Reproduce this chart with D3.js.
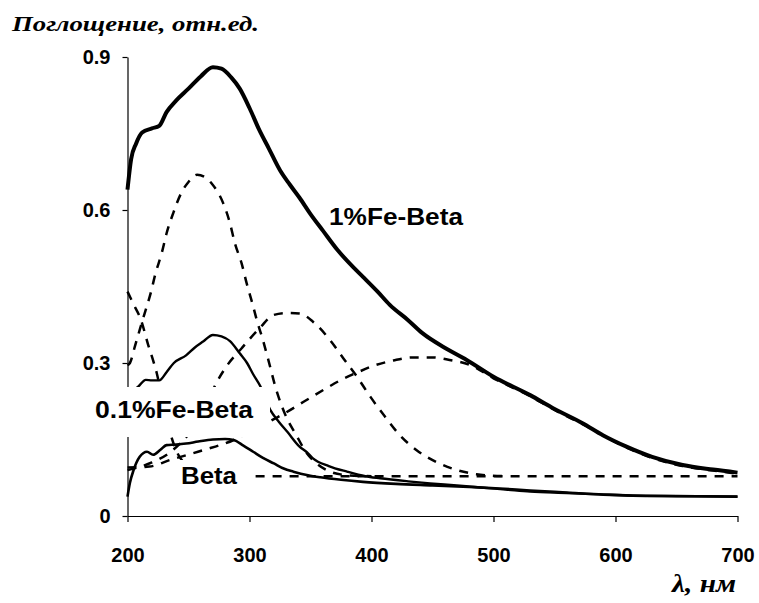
<!DOCTYPE html>
<html>
<head>
<meta charset="utf-8">
<script src="https://cdn.jsdelivr.net/npm/d3@7"></script>
<style>
  body { margin: 0; background: #fff; }
  svg { display: block; }
  .tick text { font-family: "Liberation Sans", Arial, sans-serif; font-weight: bold; font-size: 20px; fill: #000; }
  .lbl { font-family: "Liberation Sans", Arial, sans-serif; font-weight: bold; font-size: 24px; fill: #000; }
  .ttl { font-family: "Liberation Serif", "Times New Roman", serif; font-weight: bold; font-style: italic; fill: #000; }
</style>
</head>
<body>
<svg id="chart" width="759" height="603"></svg>
<script>
// оси
const xTicks = [200, 300, 400, 500, 600, 700];
const yTicks = [0, 0.3, 0.6, 0.9];

// измеренные спектры [λ, поглощение]
const fe1 = [[200,0.64],[203,0.70],[207,0.73],[212,0.752],[220,0.760],[226,0.765],[232,0.792],[240,0.815],[250,0.838],[260,0.862],[270,0.880],[277,0.877],[285,0.860],[292,0.838],[300,0.80],[308,0.757],[316,0.72],[325,0.678],[333,0.65],[341,0.624],[350,0.592],[360,0.560],[372,0.522],[385,0.488],[393,0.469],[405,0.44],[415,0.414],[430,0.384],[442,0.358],[460,0.330],[478,0.306],[500,0.273],[530,0.237],[550,0.210],[573,0.182],[590,0.158],[609,0.136],[630,0.116],[655,0.100],[680,0.091],[700,0.085]];
const fe01 = [[200,0.22],[205,0.245],[209,0.254],[215,0.267],[220,0.266],[226,0.266],[232,0.282],[238,0.30],[248,0.315],[255,0.33],[262,0.342],[270,0.355],[277,0.352],[284,0.343],[292,0.319],[298,0.300],[303,0.278],[309,0.254],[317,0.208],[324,0.185],[331,0.165],[341,0.136],[347,0.125],[352,0.113],[365,0.098],[380,0.087],[395,0.078],[407,0.074],[430,0.068],[448,0.064],[470,0.06],[489,0.056],[510,0.052],[530,0.048],[560,0.045],[590,0.042],[614,0.040],[650,0.039],[700,0.038]];
const beta = [[200,0.038],[202,0.065],[205,0.09],[210,0.116],[216,0.126],[221,0.12],[227,0.13],[232,0.139],[240,0.14],[248,0.142],[258,0.146],[270,0.150],[280,0.151],[287,0.149],[295,0.138],[303,0.126],[311,0.114],[320,0.103],[328,0.093],[336,0.087],[348,0.08],[358,0.076],[375,0.071],[393,0.067],[420,0.063],[450,0.06],[480,0.057],[505,0.054],[530,0.05],[560,0.046],[590,0.042],[614,0.040],[650,0.039],[700,0.038]];

// разложение на компоненты (пунктир)
const bandA = [[200,0.296],[202,0.30],[206,0.332],[210,0.365],[214,0.397],[219,0.437],[223,0.476],[228,0.515],[232,0.554],[237.5,0.594],[244,0.633],[250,0.655],[257,0.669],[263,0.665],[269,0.652],[278.5,0.613],[284,0.574],[288,0.535],[293.6,0.495],[297.7,0.456],[302,0.42],[306,0.384],[311,0.345],[315,0.31],[322,0.247],[330,0.195],[338,0.16],[347,0.123],[355,0.103],[365,0.088],[380,0.08],[400,0.078]];
const bandB = [[200,0.44],[205,0.415],[211,0.385],[217,0.335],[221,0.305],[224,0.28],[228,0.235],[232,0.19],[236,0.155],[240,0.128],[246,0.105],[255,0.09],[265,0.082],[280,0.078]];
const bandC = [[200,0.09],[220,0.105],[235,0.125],[250,0.16],[260,0.19],[272,0.257],[281,0.293],[293.6,0.329],[308.6,0.369],[319.5,0.394],[330,0.398],[341,0.397],[352,0.381],[366,0.345],[377,0.309],[389,0.27],[399,0.234],[411,0.195],[423,0.159],[437,0.129],[453,0.106],[470,0.09],[486,0.082],[510,0.078]];
const bandD = [[200,0.095],[218,0.097],[235,0.11],[262,0.129],[287,0.149],[300,0.165],[320,0.19],[330,0.203],[341,0.219],[352,0.235],[364,0.252],[376,0.268],[388,0.281],[401,0.294],[418,0.305],[434,0.311],[450,0.311],[464,0.306],[481,0.296],[500,0.27],[530,0.235],[550,0.208],[573,0.18],[609,0.134],[630,0.114],[655,0.098],[680,0.089],[700,0.083]];
const baseLine = [[305,0.078],[700,0.078]];

const svg = d3.select("#chart");
const x = d3.scaleLinear().domain([200, 700]).range([127.5, 737.5]);
const y = d3.scaleLinear().domain([0, 0.9]).range([516, 57]);

// оси
svg.append("g").attr("transform", "translate(127.5,0)")
    .call(d3.axisLeft(y).tickValues(yTicks).tickSize(5).tickSizeOuter(0).tickPadding(12)
        .tickFormat(d => d === 0 ? "0" : d3.format(".1f")(d)));
svg.append("g").attr("transform", "translate(0,516)")
    .call(d3.axisBottom(x).tickValues(xTicks).tickSize(6).tickSizeOuter(0).tickPadding(26)
        .tickFormat(d3.format("d")));
svg.selectAll(".domain, .tick line").attr("stroke", "#000").attr("stroke-width", 1.2);
svg.selectAll(".tick text").attr("font-family", null).attr("font-size", null);

const line = d3.line().x(d => x(d[0])).y(d => y(d[1])).curve(d3.curveMonotoneX);

// пунктирные компоненты
[bandA, bandB, bandC, bandD, baseLine].forEach(s => {
    svg.append("path").datum(s).attr("d", line)
        .attr("fill", "none").attr("stroke", "#000")
        .attr("stroke-width", 2.5).attr("stroke-dasharray", "9,8");
});

// спектры
svg.append("path").datum(beta).attr("d", line)
    .attr("fill", "none").attr("stroke", "#000").attr("stroke-width", 2.6);
svg.append("path").datum(fe01).attr("d", line)
    .attr("fill", "none").attr("stroke", "#000").attr("stroke-width", 2.4);
svg.append("path").datum(fe1).attr("d", line)
    .attr("fill", "none").attr("stroke", "#000").attr("stroke-width", 4);

// подписи кривых
svg.append("rect").attr("x", 88).attr("y", 387).attr("width", 182).attr("height", 50).attr("fill", "#fff");
svg.append("text").attr("class", "lbl").attr("x", 95).attr("y", 418)
    .attr("textLength", 158).attr("lengthAdjust", "spacingAndGlyphs").text("0.1%Fe-Beta");
svg.append("rect").attr("x", 174).attr("y", 460).attr("width", 80).attr("height", 30).attr("fill", "#fff");
svg.append("text").attr("class", "lbl").attr("x", 181).attr("y", 484)
    .attr("textLength", 56).attr("lengthAdjust", "spacingAndGlyphs").text("Beta");
svg.append("text").attr("class", "lbl").attr("x", 329).attr("y", 225)
    .attr("textLength", 134).attr("lengthAdjust", "spacingAndGlyphs").text("1%Fe-Beta");

// заголовки осей
svg.append("text").attr("class", "ttl").attr("x", 12).attr("y", 31).attr("font-size", 21)
    .attr("textLength", 247).attr("lengthAdjust", "spacingAndGlyphs").text("Поглощение, отн.ед.");
svg.append("text").attr("class", "ttl").attr("x", 672).attr("y", 592).attr("font-size", 26)
    .attr("textLength", 64).attr("lengthAdjust", "spacingAndGlyphs").text("λ, нм");
</script>
</body>
</html>
